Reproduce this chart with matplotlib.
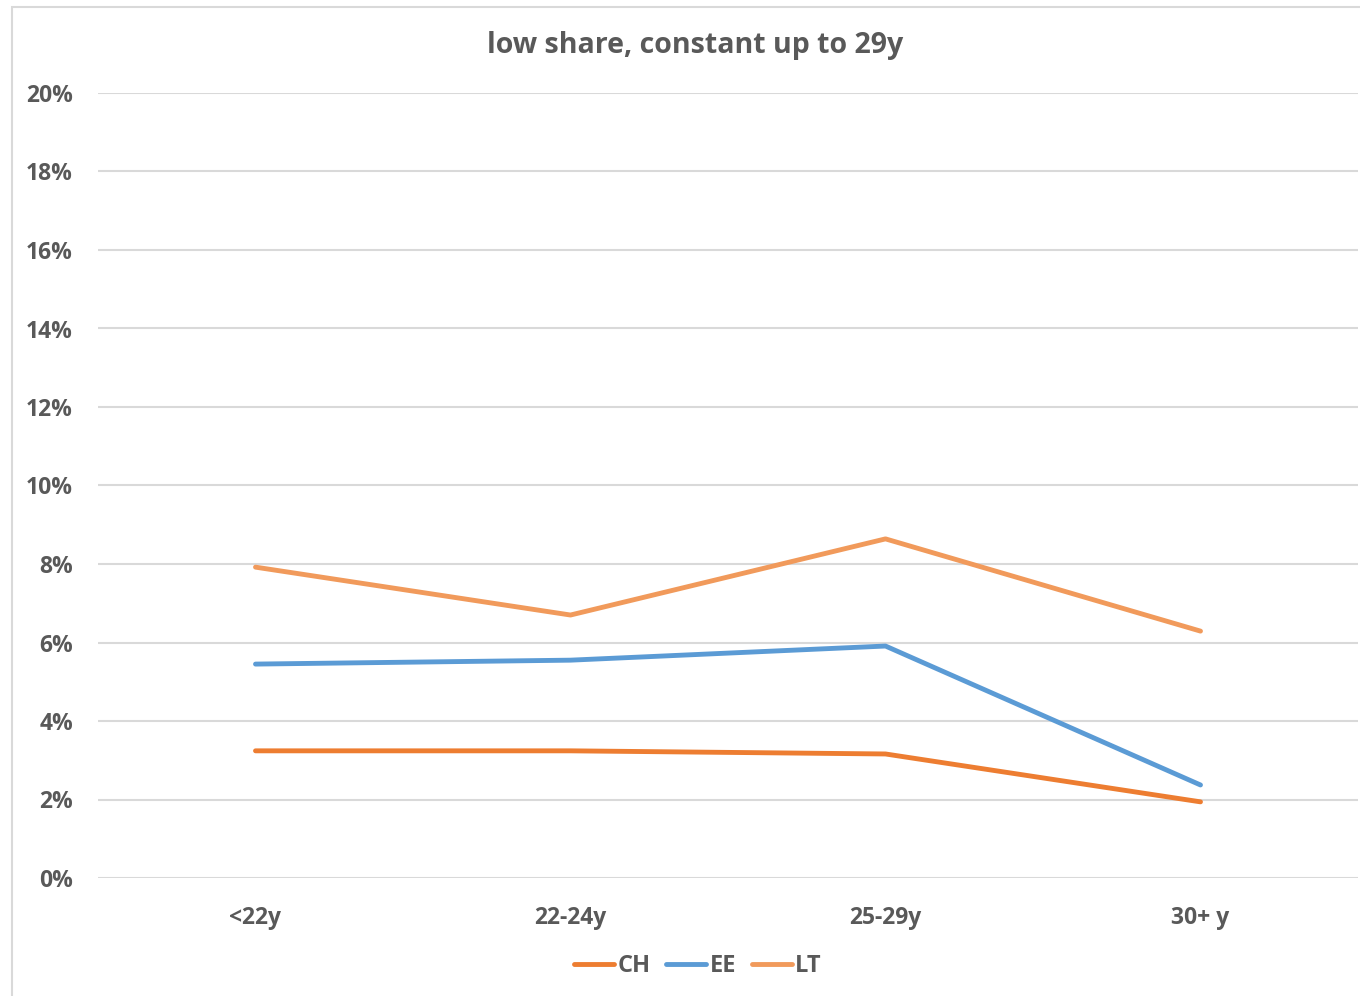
import matplotlib.pyplot as plt
from matplotlib.patches import Rectangle
from matplotlib.ticker import FuncFormatter

# data
categorias = ['<22y', '22-24y', '25-29y', '30+ y']
ch = [3.24, 3.24, 3.16, 1.94]
ee = [5.45, 5.55, 5.91, 2.37]
lt = [7.92, 6.70, 8.64, 6.29]
serie_nomes = ['CH', 'EE', 'LT']
cores = ['#ED7D31', '#5B9BD5', '#F19A5B']

plt.rcParams['font.family'] = ['Open Sans', 'DejaVu Sans']
cinza = '#595959'

W, H = 1360, 996
fig = plt.figure(figsize=(W / 100, H / 100), dpi=100)

# chart area border (left and top visible, rest cropped)
fig.patches.append(Rectangle((12 / W, -0.1), 1.2, 1 - 7 / H + 0.1, transform=fig.transFigure,
                             fill=False, edgecolor='#D9D9D9', linewidth=1.5))

ax = fig.add_axes([98 / W, 1 - 878 / H, (1358 - 98) / W, (878 - 93) / H])
x = range(len(categorias))
for serie, nome, cor in zip([ch, ee, lt], serie_nomes, cores):
    ax.plot(x, serie, color=cor, linewidth=3.5, label=nome, solid_capstyle='round')

ax.set_xlim(-0.5, 3.5)
ax.set_ylim(0, 20)
ax.set_yticks(range(0, 21, 2))
ax.yaxis.set_major_formatter(FuncFormatter(lambda v, p: f'{int(v)}%'))
ax.set_xticks(list(x))
ax.set_xticklabels(categorias)
ax.grid(axis='y', color='#D9D9D9', linewidth=1.5)
ax.set_axisbelow(True)
for s in ax.spines.values():
    s.set_visible(False)
ax.tick_params(axis='both', length=0, colors=cinza, labelsize=16.5)
ax.tick_params(axis='y', pad=18)
ax.tick_params(axis='x', pad=20)
for lbl in ax.get_xticklabels() + ax.get_yticklabels():
    lbl.set_fontweight('bold')

fig.text(695 / W, 1 - 45 / H, 'low share, constant up to 29y', ha='center', va='center',
         fontsize=20.5, fontweight='bold', color=cinza)

leg = ax.legend(loc='center', bbox_to_anchor=((698 - 98) / 1260, (878 - 966) / (878 - 93)), ncol=3,
                frameon=False, handlelength=1.7, handletextpad=0.15, columnspacing=0.65, fontsize=17)
for t in leg.get_texts():
    t.set_color(cinza)
    t.set_fontweight('bold')

fig.savefig('out.png', dpi=100)
